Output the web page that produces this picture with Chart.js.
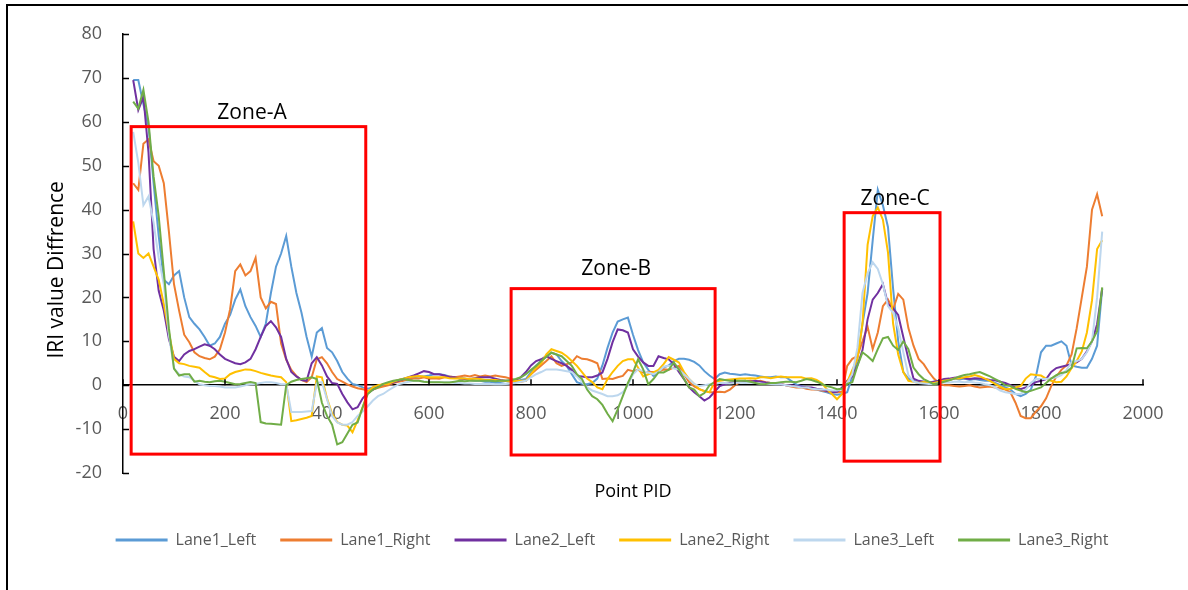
<!DOCTYPE html>
<html>
<head>
<meta charset="utf-8">
<script src="https://cdn.jsdelivr.net/npm/chart.js@4/dist/chart.umd.min.js"></script>
<style>
  html, body { margin: 0; padding: 0; background: #fff; overflow: hidden; }
  #frame { position: absolute; left: 6px; top: 4px; width: 2000px; height: 2000px;
           border-left: 2px solid #000; border-top: 2px solid #000; }
  #chart { position: absolute; left: 0; top: 0; }
</style>
</head>
<body>
<div id="frame"></div>
<canvas id="chart" width="1188" height="590"></canvas>
<script>
// Point PID sampled every 10 units from 20 to 1920
const pointPID = Array.from({ length: 191 }, (_, i) => 20 + i * 10);

const seriesNames = ['Lane1_Left', 'Lane1_Right', 'Lane2_Left', 'Lane2_Right', 'Lane3_Left', 'Lane3_Right'];
const seriesColors = ['#5B9BD5', '#ED7D31', '#7030A0', '#FFC000', '#BDD7EE', '#70AD47'];

const lane1Left = [
  69.5, 69.5, 64, 59, 46, 34, 24, 23, 25, 26,
  20, 15.5, 14, 12.7, 11, 9, 9.5, 11, 14, 16,
  19.5, 21.8, 18, 15.5, 13.5, 11, 14, 21, 27, 30,
  34, 27, 21, 16.5, 11, 6.5, 12, 13, 8.5, 7.5,
  5.5, 3, 1.5, 0.3, 0, -0.5, -0.8, -0.5, -0.3, 0,
  0.3, 0.8, 1.2, 1.5, 1.6, 1.8, 2, 2, 2.2, 2.5,
  2.5, 2.3, 2, 1.8, 1.5, 1.5, 1.2, 1, 1, 0.8,
  0.8, 0.5, 0.5, 0.3, 0.5, 0.8, 1.2, 1.4, 3, 4.5,
  5.5, 6.5, 7.4, 7, 5.5, 4.4, 2.5, 0.7, 0.3, 0.2,
  0.5, 1.5, 4.5, 8.5, 12, 14.5, 15, 15.4, 11.5, 8,
  5.2, 3.5, 2.1, 3, 4, 4.5, 5.5, 6, 6, 5.8,
  5.3, 4.5, 3.2, 2.2, 1.4, 2.5, 2.9, 2.6, 2.5, 2.3,
  2.5, 2.3, 2.2, 2, 1.8, 1.8, 2, 1.8, 1.8, 1,
  0.2, -0.2, -0.5, -0.8, -1, -1.3, -1.6, -2, -2.2, -2,
  -1.6, 2, 6, 14, 21, 33, 44.5, 41, 36, 22,
  10, 3, 1.5, 1, 0.8, 0.8, 0.6, 0.8, 1, 1.2,
  1.2, 1.5, 1.3, 1.5, 1.2, 1.4, 1.2, 1, 1, 0.5,
  0, -0.5, -1, -2, -2.5, -2, -1, 2, 7.5, 9,
  9, 9.5, 10, 9, 4.5, 4.2, 4, 4, 6, 9,
  22
];
const lane1Right = [
  46, 44.5, 55, 56, 51, 50, 46, 35, 23, 17,
  11.5, 9.8, 7.5, 6.6, 6.2, 5.9, 6.5, 8.2, 12, 17.3,
  26, 27.5, 25, 26, 29, 20, 17.5, 19, 18.5, 9.5,
  5.8, 3.5, 2.1, 1.2, 0.7, 1.8, 5.9, 6.4, 5, 3,
  1.4, 0.8, 0.2, -0.3, -0.7, -0.9, -1.3, -1, -0.6, -0.3,
  0, 0.5, 0.8, 1, 1.3, 1.5, 1.5, 1.8, 1.5, 1.6,
  1.5, 1.8, 2, 1.8, 2, 2.2, 2, 2.3, 2, 2.2,
  2, 2.2, 2, 1.8, 1.5, 1, 0.8, 1, 2.5, 3.5,
  4.5, 5.5, 6.6, 5, 4.4, 4.8, 5.2, 6.6, 6, 5.9,
  5.5, 5, 1.4, 1.5, 1.4, 1.8, 2.1, 3.5, 3.2, 3.5,
  2.9, 3, 3, 3, 3.6, 3.5, 4, 4.4, 2.5, 0.7,
  -0.3, -0.9, -1.3, -1.6, -1.6, -1.5, -1.6, -1, 0, 0.7,
  0.8, 1, 0.8, 1, 0.7, 0.5, 0.5, 0.3, 0, -0.3,
  -0.5, -0.5, -0.8, -1, -1, -1.2, -1.4, -1.6, -1.6, -1.5,
  4.4, 6, 6.6, 10, 13.3, 8.2, 12, 18, 19.5, 17.3,
  20.8, 19.5, 13, 9, 6, 4.8, 3, 1.5, 0.5, 0,
  0, -0.2, -0.3, -0.2, 0, -0.3, -0.5, -0.4, -0.3, -0.5,
  -0.7, -1, -1.6, -4, -7, -7.5, -7.5, -6, -4.8, -3,
  -0.2, 2, 3.5, 4.5, 7, 13, 20, 27, 40, 43.5,
  38.5
];
const lane2Left = [
  69.5, 62.7, 65.7, 53, 31, 21.5, 17, 10.5, 6.5, 5.5,
  7, 7.8, 8.2, 8.8, 9.3, 9, 8.2, 7, 6, 5.5,
  5, 4.8, 5.2, 6, 8.2, 11, 13.5, 14.6, 13.2, 11,
  6, 3, 2, 1.2, 1, 5, 6.4, 4.5, 2, 0.5,
  0.3, -2, -3.9, -5.5, -5, -3, -1.8, -1, -0.2, 0.2,
  0.2, 0.6, 1, 1.4, 1.8, 2.2, 2.7, 3.2, 3, 2.5,
  2.5, 2.2, 1.8, 1.8, 1.5, 1.4, 1.4, 1.6, 1.8, 1.8,
  1.8, 1.5, 1.2, 1, 1, 1.2, 1.8, 3, 4.5, 5.5,
  5.9, 6.6, 6, 5.5, 5, 4.4, 3.5, 2.1, 2, 1.8,
  1.8, 2.2, 2.9, 6, 9.8, 12.7, 12.5, 12, 8.2, 6.5,
  5.2, 4.4, 4.4, 6.6, 6.2, 5.9, 4.8, 3, 1.4, -0.5,
  -1.6, -2.5, -3.5, -2.8, -1.5, -0.2, 0.2, 0.5, 0.8, 0.8,
  1, 0.8, 1, 0.8, 0.6, 0.5, 0.5, 0.2, 0, 0,
  -0.2, -0.3, -0.5, -0.5, -0.8, -1, -1.3, -1.6, -1.5, -0.5,
  1, 2, 4.5, 8, 15, 19.5, 21, 23, 18.5, 17.5,
  16, 11, 6, 1.5, 1, 0.8, 0.6, 0.8, 1, 1.4,
  1.5, 1.7, 1.8, 1.6, 1.4, 1.6, 1.5, 1.4, 1.2, 1.1,
  0.8, 0.5, 0, -0.5, -0.9, -0.5, 0, 0.7, 1, 1.4,
  3, 3.9, 4.2, 4.5, 4.8, 5.2, 6, 7.7, 10, 13.9,
  22
];
const lane2Right = [
  37.3, 30, 29, 30, 27, 24, 18.5, 12, 6, 5,
  4.8, 4.4, 4.2, 4, 3, 2.1, 1.8, 1.4, 1.5, 2.5,
  3, 3.3, 3.6, 3.5, 3.2, 2.8, 2.5, 2.2, 2, 1.8,
  0.7, -8.2, -8, -7.7, -7.4, -7, 2, 1.8, -3, -6.5,
  -8.4, -9, -9.2, -10.7, -8, -5, -1.5, -0.5, 0, 0.2,
  0.2, 0.8, 1.2, 1.5, 1.8, 2, 2.1, 2, 1.8, 1.8,
  1.8, 1.8, 1.6, 1.5, 1.6, 1.5, 1.4, 1.5, 1.4, 1.2,
  1.2, 1.2, 1, 1, 0.8, 1, 1, 1, 2.5, 4,
  5, 7, 8.2, 7.8, 7.4, 6.6, 5.5, 4.4, 3, 1.5,
  0.7, -0.5, -0.9, 1.4, 3, 4.4, 5.5, 5.9, 5.9, 4,
  2, 2.5, 2.9, 3.5, 4.8, 6.4, 5.8, 5.2, 3, 1.4,
  0.3, -0.9, -1.4, -1.6, 0.7, 1, 1.2, 1.3, 1.4, 1.5,
  1.5, 1.6, 1.5, 1.8, 1.8, 1.6, 1.8, 2, 1.8, 1.8,
  1.8, 1.8, 1.5, 1.6, 1.2, 0.5, -0.9, -2, -3.2, -2,
  0.7, 3.5, 6, 14, 32, 38.5, 40.5, 37.7, 30.2, 14,
  7, 3, 1, 0.8, 0.5, 0.7, 0.6, 0.5, 0.8, 1,
  1.2, 1.5, 1.5, 1.8, 2, 2.3, 2, 1.5, 1, 0.3,
  -0.3, -0.9, -0.8, -0.5, -0.2, 1.5, 2.5, 2.3, 2.2, 1.5,
  1, 0.7, 0.8, 2, 3.9, 5.5, 7.7, 12, 19.3, 31,
  33
];
const lane3Left = [
  57.7, 50.7, 41, 43, 37, 29, 23, 11.5, 3.8, 2.5,
  2, 1.8, 1, 0.2, 0, -0.2, -0.2, -0.3, -0.5, -0.5,
  -0.5, -0.3, 0, 0.2, 0.3, 0.5, 0.7, 0.7, 0.5, 0.2,
  0.2, -6.1, -6.1, -6.1, -6, -5.9, 0.5, 0.7, -3.2, -7,
  -8.5, -9, -9, -8.4, -7, -6, -4.8, -3.5, -2.5, -2,
  -1.2, -0.5, 0.2, 0.5, 0.8, 1, 1, 0.8, 0.8, 0.7,
  0.7, 0.7, 0.7, 0.5, 0.5, 0.4, 0.4, 0.3, 0.3, 0.3,
  0.3, 0.2, 0.2, 0.3, 0.4, 0.5, 0.8, 1, 1.8, 2.5,
  3, 3.6, 3.6, 3.6, 3.4, 3.2, 3, 2, 0.7, -0.5,
  -1.2, -1.6, -2, -2.5, -2.5, -2.3, -1.6, 0, 2.5, 3.6,
  3.2, 2.9, 2.5, 3, 4.2, 4.4, 3.8, 3.6, 2.5, 1.4,
  0.3, -0.2, 0, 0.2, 0.3, 0.5, 0.5, 0.4, 0.5, 0.6,
  0.5, 0.6, 0.5, 0.4, 0.3, 0.3, 0.2, 0.2, 0, -0.2,
  -0.3, -0.5, -0.5, -0.8, -0.9, -1, -1, -1.2, -1.2, -0.9,
  0.5, 2.5, 8.5, 21, 25.5, 28, 26.5, 23, 18, 16.5,
  13, 7.5, 2.3, 0.8, 0.5, 0.4, 0.3, 0.3, 0.5, 0.6,
  0.6, 0.8, 0.8, 0.7, 0.8, 0.6, 0.5, 0.2, 0, -0.5,
  -1.2, -1.6, -1.8, -2, -2, -1, 0.5, 1.4, 1.4, 1.4,
  1.6, 1.8, 2.3, 3.5, 5.2, 5.5, 6, 7.5, 10, 20,
  35
];
const lane3Right = [
  64.6, 63, 67.3, 60, 47.5, 38.5, 26, 13, 3.8, 2.2,
  2.5, 2.5, 0.8, 1, 0.8, 0.7, 0.9, 1, 0.8, 0.5,
  0.2, 0.3, 0.5, 0.7, 0.5, -8.4, -8.7, -8.8, -8.9, -9,
  0, 0.8, 1.2, 1.4, 1.6, 1.8, 1.4, -4, -7, -9,
  -13.5, -13, -11, -9, -8.5, -5, -2, -1, -0.5, 0.3,
  0.7, 1, 1.2, 1.4, 1.2, 1, 1, 0.8, 0.7, 0.7,
  0.7, 0.6, 0.6, 0.8, 1, 0.9, 1, 1, 1, 1,
  1, 0.9, 1, 1, 1.2, 1.4, 1.8, 2.5, 3.5, 4.4,
  5.5, 6.5, 7.4, 7, 6.6, 5.5, 4.4, 2.5, 1.4, -1,
  -2.5, -3.2, -4.5, -6.5, -8.2, -5.5, -2.5, 0.5, 2.9, 5.9,
  3.6, 0.2, 1.4, 2.9, 2.9, 3.5, 5.2, 3.6, 1.4, -0.5,
  -1, -2.5, -1.8, 0, 0.7, 1.4, 1.2, 1, 1, 1,
  1, 0.8, 0.5, 0.2, 0.3, 0.5, 0.5, 0.7, 0.8, 0.8,
  0.7, 1, 1.4, 1.2, 0.8, 0.3, -0.2, -0.5, -0.9, -0.8,
  0.3, 0.7, 4.4, 7.5, 6.6, 5.5, 8.2, 10.7, 11, 9,
  8, 10, 8.2, 4, 2.5, 1.4, 0.8, 0.2, 0.5, 0.8,
  1.1, 1.5, 2, 2.3, 2.5, 2.8, 3, 2.5, 2, 1.4,
  0.8, 0, -0.2, -0.8, -1.2, -1.6, -1.3, -0.9, -0.5, 0.5,
  1.5, 2.3, 2.8, 3, 4, 8.4, 8.5, 8.4, 10, 12.3,
  22.3
];
const seriesValues = [lane1Left, lane1Right, lane2Left, lane2Right, lane3Left, lane3Right];

// Highlighted zones (PID range and IRI difference range) and their captions
const zoneNames = ['Zone-A', 'Zone-B', 'Zone-C'];
const zonePIDStart = [16, 761, 1414];
const zonePIDEnd = [476, 1161, 1602];
const zoneLow = [-15.7, -15.9, -17.3];
const zoneHigh = [58.9, 22, 39.3];
const zoneCaptionPID = [253, 967, 1514];
const zoneCaptionValue = [62, 26.4, 42.3];

// Axis ticks
const xTickMin = 0, xTickMax = 2000, xTickStep = 200;
const yTickMin = -20, yTickMax = 80, yTickStep = 10;

const FONT = "'Open Sans', 'Noto Sans', sans-serif";
Chart.defaults.font.family = FONT;

const datasets = seriesNames.map((name, i) => ({
  label: name,
  data: pointPID.map((p, k) => ({ x: p, y: seriesValues[i][k] })),
  borderColor: seriesColors[i],
  backgroundColor: seriesColors[i],
  borderWidth: 2,
  pointRadius: 0,
  tension: 0,
  fill: false,
  xAxisID: 'x',
  yAxisID: 'y',
  order: seriesNames.length - i
}));

// Inward tick marks plus the red zone boxes with their captions
const chartDecor = {
  id: 'chartDecor',
  afterDatasetsDraw(chart) {
    const { ctx, scales: { x, y } } = chart;
    ctx.save();
    ctx.strokeStyle = '#FF0000';
    ctx.lineWidth = 3;
    zoneNames.forEach((name, i) => {
      const x0 = x.getPixelForValue(zonePIDStart[i]);
      const x1 = x.getPixelForValue(zonePIDEnd[i]);
      const y0 = y.getPixelForValue(zoneHigh[i]);
      const y1 = y.getPixelForValue(zoneLow[i]);
      ctx.strokeRect(x0, y0, x1 - x0, y1 - y0);
    });
    ctx.fillStyle = '#000';
    ctx.font = "21px " + FONT;
    ctx.textAlign = 'center';
    ctx.textBaseline = 'middle';
    zoneNames.forEach((name, i) => {
      ctx.fillText(name, x.getPixelForValue(zoneCaptionPID[i]), y.getPixelForValue(zoneCaptionValue[i]));
    });
    ctx.restore();
  },
  afterDraw(chart) {
    const { ctx, scales: { x, y } } = chart;
    const axisY = y.getPixelForValue(0);
    const axisX = x.getPixelForValue(xTickMin);
    ctx.save();
    ctx.strokeStyle = '#000';
    ctx.lineWidth = 1.5;
    ctx.beginPath();
    y.ticks.forEach(t => {
      const py = Math.round(y.getPixelForValue(t.value)) + 0.5;
      ctx.moveTo(axisX, py);
      ctx.lineTo(axisX + 6, py);
    });
    x.ticks.forEach(t => {
      const px = Math.round(x.getPixelForValue(t.value));
      ctx.moveTo(px, axisY);
      ctx.lineTo(px, axisY - 6);
    });
    ctx.stroke();
    ctx.restore();
  }
};

new Chart(document.getElementById('chart'), {
  type: 'line',
  data: { datasets },
  plugins: [chartDecor],
  options: {
    responsive: false,
    animation: false,
    devicePixelRatio: 1,
    layout: { padding: { left: 44, right: 8, top: 34, bottom: 32 } },
    plugins: {
      tooltip: { enabled: false },
      legend: {
        position: 'bottom',
        labels: {
          boxWidth: 52,
          boxHeight: 3,
          padding: 24,
          color: '#595959',
          font: { size: 16, family: FONT },
          generateLabels(chart) {
            const items = Chart.defaults.plugins.legend.labels.generateLabels(chart);
            items.sort((a, b) => a.datasetIndex - b.datasetIndex);
            items.forEach(it => { it.lineWidth = 0; it.fillStyle = it.strokeStyle; });
            return items;
          }
        }
      }
    },
    scales: {
      x: {
        type: 'linear',
        position: { y: 0 },
        min: xTickMin,
        max: xTickMax,
        ticks: { stepSize: xTickStep, color: '#595959', font: { size: 18 }, padding: 18, maxRotation: 0,
                 callback: v => String(v) },
        grid: { display: false, drawTicks: false },
        border: { display: true, color: '#000', width: 1.5 }
      },
      xTitle: {
        type: 'linear',
        position: 'bottom',
        display: true,
        ticks: { display: false },
        grid: { display: false, drawTicks: false },
        border: { display: false },
        title: { display: true, text: 'Point PID', color: '#000', font: { size: 18 }, padding: { top: 0, bottom: 5 } },
        afterFit(scale) { scale.height = 35; }
      },
      y: {
        type: 'linear',
        position: 'left',
        min: yTickMin,
        max: yTickMax,
        ticks: { stepSize: yTickStep, color: '#595959', font: { size: 18 }, padding: 21,
                 callback: v => String(v) },
        grid: { display: false, drawTicks: false },
        border: { display: true, color: '#000', width: 1.5 },
        title: { display: true, text: 'IRI value Diffrence      ', color: '#000', font: { size: 21 }, padding: { top: 0, bottom: 0 } },
        afterFit(scale) { scale.width = 79; }
      },
      yRight: {
        type: 'linear',
        position: 'right',
        display: true,
        ticks: { display: false },
        grid: { display: false, drawTicks: false },
        border: { display: false },
        afterFit(scale) { scale.width = 37; }
      }
    }
  }
});
</script>
</body>
</html>
